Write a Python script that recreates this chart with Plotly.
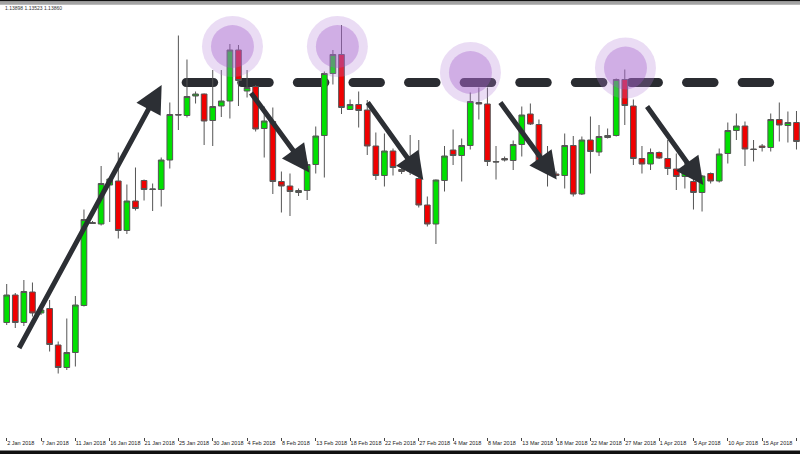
import plotly.graph_objects as go
import pandas as pd

# ---------------- data ----------------
DATES = [d for d in pd.date_range("2018-01-02", "2018-04-19") if d.weekday() != 5]
X = list(range(len(DATES)))

OPEN = [1.1975, 1.2030, 1.1975, 1.2036, 1.1994, 1.2003, 1.1930, 1.1885, 1.1915, 1.2009,
        1.2175, 1.2172, 1.2250, 1.2258, 1.2159, 1.2218, 1.2259, 1.2241, 1.2241, 1.2300,
        1.2391, 1.2389, 1.2428, 1.2432, 1.2379, 1.2408, 1.2418, 1.2520, 1.2438, 1.2447,
        1.2363, 1.2377, 1.2257, 1.2248, 1.2235, 1.2239, 1.2291, 1.2349, 1.2473, 1.2511,
        1.2401, 1.2411, 1.2400, 1.2328, 1.2269, 1.2318, 1.2281, 1.2278, 1.2263, 1.2210,
        1.2172, 1.2259, 1.2320, 1.2309, 1.2329, 1.2415, 1.2412, 1.2297, 1.2303, 1.2299,
        1.2331, 1.2392, 1.2371, 1.2284, 1.2272, 1.2269, 1.2329, 1.2232, 1.2340, 1.2316,
        1.2345, 1.2349, 1.2461, 1.2408, 1.2303, 1.2292, 1.2315, 1.2303, 1.2282, 1.2267,
        1.2257, 1.2235, 1.2273, 1.2258, 1.2313, 1.2359, 1.2368, 1.2322, 1.2328, 1.2325,
        1.2381, 1.2369, 1.2375]
HIGH = [1.2052, 1.2034, 1.2060, 1.2055, 1.2008, 1.2020, 1.1937, 1.1983, 1.2028, 1.2201,
        1.2178, 1.2288, 1.2266, 1.2315, 1.2251, 1.2285, 1.2261, 1.2253, 1.2305, 1.2415,
        1.2549, 1.2501, 1.2437, 1.2433, 1.2480, 1.2480, 1.2532, 1.2530, 1.2480, 1.2450,
        1.2407, 1.2405, 1.2277, 1.2273, 1.2243, 1.2297, 1.2367, 1.2477, 1.2520, 1.2570,
        1.2421, 1.2437, 1.2420, 1.2355, 1.2353, 1.2323, 1.2290, 1.2350, 1.2340, 1.2227,
        1.2261, 1.2328, 1.2361, 1.2343, 1.2435, 1.2445, 1.2445, 1.2328, 1.2307, 1.2339,
        1.2407, 1.2413, 1.2381, 1.2328, 1.2277, 1.2353, 1.2348, 1.2347, 1.2387, 1.2370,
        1.2363, 1.2463, 1.2481, 1.2421, 1.2328, 1.2323, 1.2317, 1.2340, 1.2313, 1.2300,
        1.2267, 1.2270, 1.2275, 1.2323, 1.2375, 1.2393, 1.2377, 1.2340, 1.2332, 1.2393,
        1.2415, 1.2397, 1.2398]
LOW = [1.1970, 1.1964, 1.1968, 1.1987, 1.1990, 1.1917, 1.1873, 1.1880, 1.1887, 1.2007,
       1.2172, 1.2169, 1.2176, 1.2143, 1.2152, 1.2199, 1.2219, 1.2198, 1.2207, 1.2283,
       1.2360, 1.2385, 1.2413, 1.2330, 1.2328, 1.2386, 1.2383, 1.2408, 1.2425, 1.2357,
       1.2305, 1.2232, 1.2195, 1.2188, 1.2228, 1.2220, 1.2273, 1.2265, 1.2451, 1.2392,
       1.2400, 1.2365, 1.2310, 1.2260, 1.2247, 1.2269, 1.2272, 1.2270, 1.2205, 1.2167,
       1.2132, 1.2237, 1.2290, 1.2257, 1.2321, 1.2381, 1.2288, 1.2261, 1.2297, 1.2280,
       1.2307, 1.2370, 1.2293, 1.2247, 1.2267, 1.2243, 1.2227, 1.2230, 1.2273, 1.2308,
       1.2343, 1.2347, 1.2370, 1.2290, 1.2273, 1.2280, 1.2302, 1.2270, 1.2240, 1.2243,
       1.2201, 1.2197, 1.2253, 1.2255, 1.2293, 1.2340, 1.2288, 1.2297, 1.2317, 1.2317,
       1.2337, 1.2335, 1.2321]
CLOSE = [1.2030, 1.1975, 1.2037, 1.1994, 1.2000, 1.1931, 1.1885, 1.1915, 1.2010, 1.2181,
         1.2173, 1.2253, 1.2262, 1.2159, 1.2218, 1.2203, 1.2241, 1.2242, 1.2300, 1.2391,
         1.2390, 1.2427, 1.2432, 1.2378, 1.2407, 1.2418, 1.2520, 1.2459, 1.2445, 1.2362,
         1.2378, 1.2257, 1.2248, 1.2237, 1.2239, 1.2291, 1.2348, 1.2473, 1.2511, 1.2405,
         1.2411, 1.2399, 1.2328, 1.2269, 1.2318, 1.2285, 1.2277, 1.2306, 1.2210, 1.2172,
         1.2260, 1.2308, 1.2309, 1.2329, 1.2417, 1.2412, 1.2297, 1.2296, 1.2300, 1.2331,
         1.2390, 1.2372, 1.2297, 1.2296, 1.2269, 1.2329, 1.2232, 1.2340, 1.2317, 1.2347,
         1.2349, 1.2461, 1.2409, 1.2303, 1.2292, 1.2315, 1.2304, 1.2283, 1.2267, 1.2277,
         1.2235, 1.2268, 1.2258, 1.2312, 1.2359, 1.2368, 1.2322, 1.2321, 1.2325, 1.2381,
         1.2370, 1.2375, 1.2337]

TICK_IDX = list(range(0, len(DATES), 4))
TICK_TEXT = [f"{DATES[i].day} {DATES[i]:%b %Y}" for i in TICK_IDX]

# annotations (bar index, price)
RESISTANCE = 1.2455
RES_START = 20.38          # first dash start (bar index)
DASH_COUNT = 11
HIGHLIGHT_X = [26.3, 38.52, 54.02, 72.08]
HIGHLIGHT_Y = [1.2527, 1.2527, 1.2475, 1.2484]
ARROWS = [  # (tail x, tail y, tip x, tip y)
    (1.35, 1.1921, 18.05, 1.2450),
    (28.34, 1.2437, 35.25, 1.2275),
    (41.93, 1.2418, 48.53, 1.2260),
    (57.38, 1.2418, 64.07, 1.2261),
    (74.47, 1.2410, 81.14, 1.2250),
]
HEADER = "1.13898 1.13523 1.13860"

# ---------------- geometry helpers ----------------
X_RANGE = [-0.78, 92.41]
Y_RANGE = [1.1746, 1.2608]
PX_X = 800 / (X_RANGE[1] - X_RANGE[0])        # px per bar
PX_Y = 431 / (Y_RANGE[1] - Y_RANGE[0])        # px per price unit
DASH_LEN_PX, DASH_PERIOD_PX, DASH_THICK_PX = 36.5, 55.6, 9.0


def stadium(x0, x1, yc, rx, ry):
    k = 0.5523
    return (f"M{x0+rx},{yc+ry} L{x1-rx},{yc+ry} "
            f"C{x1-rx+k*rx},{yc+ry} {x1},{yc+k*ry} {x1},{yc} "
            f"C{x1},{yc-k*ry} {x1-rx+k*rx},{yc-ry} {x1-rx},{yc-ry} "
            f"L{x0+rx},{yc-ry} "
            f"C{x0+rx-k*rx},{yc-ry} {x0},{yc-k*ry} {x0},{yc} "
            f"C{x0},{yc+k*ry} {x0+rx-k*rx},{yc+ry} {x0+rx},{yc+ry} Z")


# ---------------- figure ----------------
fig = go.Figure()
fig.add_trace(go.Candlestick(
    x=X, open=OPEN, high=HIGH, low=LOW, close=CLOSE,
    increasing=dict(fillcolor="#00e000", line=dict(color="#555555", width=1)),
    decreasing=dict(fillcolor="#f00000", line=dict(color="#555555", width=1)),
    whiskerwidth=0, showlegend=False, hoverinfo="skip"))
fig.add_trace(go.Scatter(
    x=HIGHLIGHT_X, y=HIGHLIGHT_Y, mode="markers", showlegend=False, hoverinfo="skip",
    marker=dict(size=61, color="rgba(180,130,215,0.28)", line=dict(width=0))))
fig.add_trace(go.Scatter(
    x=HIGHLIGHT_X, y=HIGHLIGHT_Y, mode="markers", showlegend=False, hoverinfo="skip",
    marker=dict(size=43, color="rgba(160,90,200,0.35)", line=dict(width=0))))

shapes = []
rx = (DASH_THICK_PX / 2) / PX_X
ry = (DASH_THICK_PX / 2) / PX_Y
for k in range(DASH_COUNT):
    s = RES_START + k * DASH_PERIOD_PX / PX_X
    e = s + DASH_LEN_PX / PX_X
    shapes.append(dict(type="path", xref="x", yref="y", path=stadium(s, e, RESISTANCE, rx, ry),
                       fillcolor="#2a2c31", line=dict(width=0), layer="below"))

# window bars (plot area spans pixel rows 6..437)
shapes += [
    dict(type="rect", xref="paper", yref="paper", x0=0, x1=1, y0=1.0107, y1=1.0145,
         fillcolor="#111111", line=dict(width=0)),
    dict(type="rect", xref="paper", yref="paper", x0=0, x1=1, y0=1.0030, y1=1.0107,
         fillcolor="#a3a3a3", line=dict(width=0)),
    dict(type="rect", xref="paper", yref="paper", x0=0, x1=1, y0=-0.045, y1=-0.0313,
         fillcolor="#111111", line=dict(width=0)),
]

annotations = []
for tx, ty, hx, hy in ARROWS:
    annotations.append(dict(
        x=hx, y=hy, ax=tx, ay=ty, xref="x", yref="y", axref="x", ayref="y",
        text="", showarrow=True, arrowhead=2, arrowsize=1.1, arrowwidth=5,
        arrowcolor="#2c2f34", standoff=0))
annotations.append(dict(
    x=0.004, y=0.9947, xref="paper", yref="paper", text=HEADER, showarrow=False,
    xanchor="left", yanchor="middle", font=dict(family="Liberation Sans", size=5, color="#333333")))

fig.update_layout(
    width=800, height=454, margin=dict(l=0, r=0, t=6, b=17, autoexpand=False),
    paper_bgcolor="white", plot_bgcolor="white", showlegend=False,
    boxgap=0.34, boxgroupgap=0,
    shapes=shapes, annotations=annotations,
    xaxis=dict(range=X_RANGE, tickvals=TICK_IDX, ticktext=TICK_TEXT,
               tickangle=0, automargin=False,
               ticklabelposition="outside right", ticks="outside", ticklen=3,
               tickcolor="#444444", tickwidth=1, showgrid=False, zeroline=False,
               showline=False, rangeslider=dict(visible=False), fixedrange=True,
               tickfont=dict(family="Liberation Sans", size=5.5, color="#222222")),
    yaxis=dict(range=Y_RANGE, visible=False, showgrid=False, zeroline=False,
               automargin=False),
)

fig.write_html("out.html", config={"displayModeBar": False},
               post_script="document.body.style.margin='0';document.body.style.overflow='hidden';")
